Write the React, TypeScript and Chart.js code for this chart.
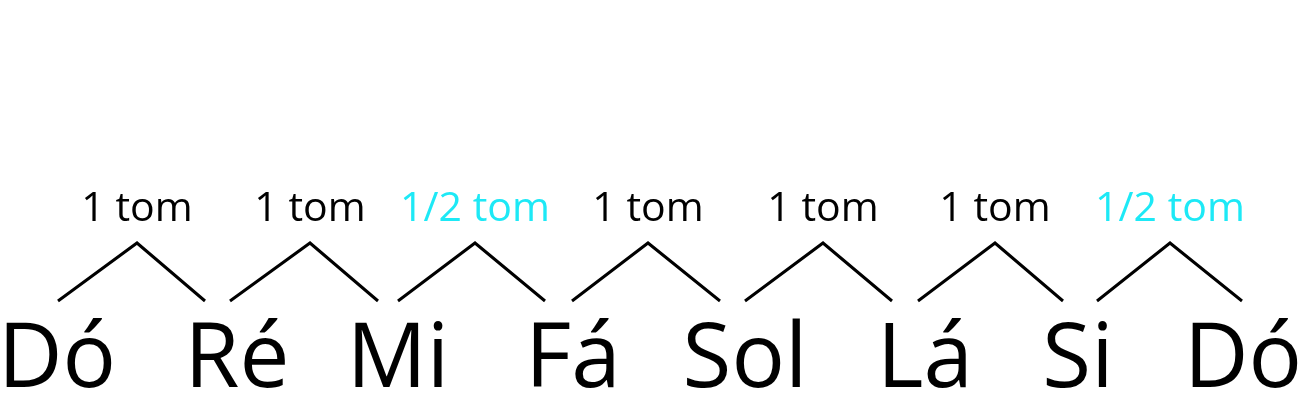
import { useEffect, useRef } from 'react';
import Chart from 'chart.js/auto';

const notes = ['Dó', 'Ré', 'Mi', 'Fá', 'Sol', 'Lá', 'Si', 'Dó'];
const noteX = [57, 237, 398, 573, 745, 925, 1078, 1243];
const intervals = ['1 tom', '1 tom', '1/2 tom', '1 tom', '1 tom', '1 tom', '1/2 tom'];
const leftX = [58, 230, 398, 572, 745, 918, 1097];
const peakX = [137, 310, 475, 648, 823, 995, 1170];
const rightX = [205, 378, 545, 720, 892, 1063, 1242];
const baseY = 301;
const peakY = 243;

const textPlugin = {
  id: 'noteText',
  afterDraw(chart: any) {
    const { ctx, scales } = chart;
    const xs = scales.x, ys = scales.y;
    ctx.save();
    ctx.textAlign = 'center';
    ctx.textBaseline = 'alphabetic';
    ctx.fillStyle = '#000';
    ctx.font = '89px "Open Sans", sans-serif';
    notes.forEach((n, i) => {
      ctx.fillText(n, xs.getPixelForValue(noteX[i]), ys.getPixelForValue(387));
    });
    ctx.font = '41px "Open Sans", sans-serif';
    intervals.forEach((t, i) => {
      ctx.fillStyle = t.startsWith('1/2') ? '#1de9f6' : '#000';
      ctx.fillText(t, xs.getPixelForValue(peakX[i]), ys.getPixelForValue(221));
    });
    ctx.restore();
  },
};

export default function App() {
  const ref = useRef<HTMLCanvasElement>(null);

  useEffect(() => {
    document.body.style.margin = '0';
    if (!ref.current) return;
    const chart = new Chart(ref.current, {
      type: 'scatter',
      data: {
        datasets: intervals.map((_, i) => ({
          data: [
            { x: leftX[i], y: baseY },
            { x: peakX[i], y: peakY },
            { x: rightX[i], y: baseY },
          ],
          showLine: true,
          borderColor: '#000',
          borderWidth: 3,
          pointRadius: 0,
          borderJoinStyle: 'miter' as const,
        })),
      },
      options: {
        animation: false,
        responsive: true,
        maintainAspectRatio: false,
        layout: { padding: 0 },
        plugins: { legend: { display: false }, tooltip: { enabled: false } },
        scales: {
          x: { type: 'linear', min: 0, max: 1299, display: false },
          y: { type: 'linear', min: 0, max: 412, reverse: true, display: false },
        },
      },
      plugins: [textPlugin],
    });
    return () => chart.destroy();
  }, []);

  return (
    <div style={{ width: 1299, height: 412, position: 'relative', background: '#fff' }}>
      <canvas ref={ref} />
    </div>
  );
}
